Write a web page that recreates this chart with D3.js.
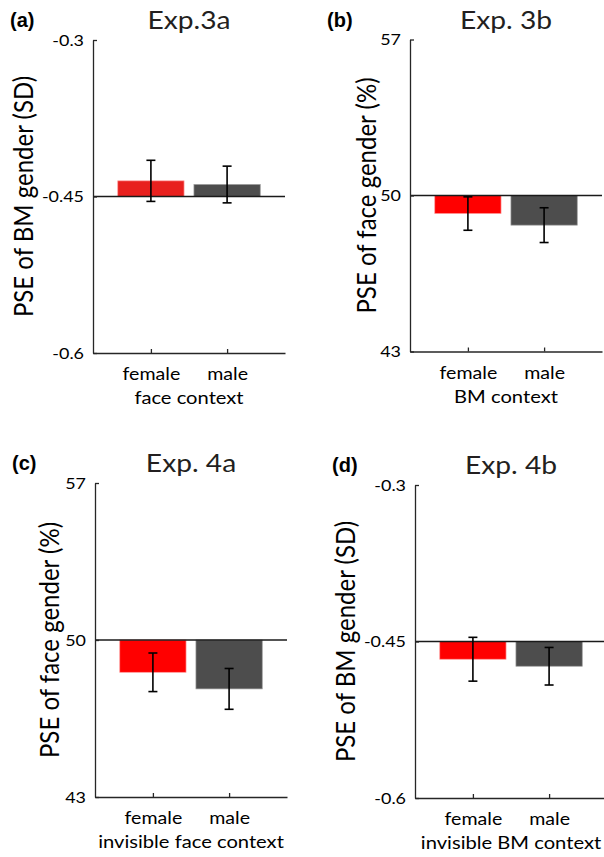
<!DOCTYPE html>
<html>
<head>
<meta charset="utf-8">
<script src="https://cdn.jsdelivr.net/npm/d3@7"></script>
<style>
  body { margin: 0; background: #fff; }
  svg { display: block; font-family: Lato, sans-serif; }
</style>
</head>
<body>
<div id="chart-area"></div>
<script>
// values
const conditions = ['female', 'male']
const barColors = ['#ff0000', '#4d4d4d']

const exp3aPSE = [-0.435, -0.4385]
const exp3aErr = [0.0197, 0.0176]
const exp3bPSE = [49.19, 48.67]
const exp3bErr = [0.75, 0.78]
const exp4aPSE = [48.56, 47.82]
const exp4aErr = [0.86, 0.91]
const exp4bPSE = [-0.467, -0.4737]
const exp4bErr = [0.021, 0.018]

const ticksSD = [-0.6, -0.45, -0.3]
const ticksPct = [43, 50, 57]

const panels = [
    { tag: '(a)', title: 'Exp.3a', ylab: 'PSE of BM gender (SD)', xlab: 'face context',
      pse: exp3aPSE, err: exp3aErr, ticks: ticksSD, red: '#e8201e',
      left: 93, top: 40, height: 313, labGap: 60 },
    { tag: '(b)', title: 'Exp. 3b', ylab: 'PSE of face gender (%)', xlab: 'BM context',
      pse: exp3bPSE, err: exp3bErr, ticks: ticksPct, red: barColors[0],
      left: 410, top: 39.5, height: 312, labGap: 34 },
    { tag: '(c)', title: 'Exp. 4a', ylab: 'PSE of face gender (%)', xlab: 'invisible face context',
      pse: exp4aPSE, err: exp4aErr, ticks: ticksPct, red: barColors[0],
      left: 95, top: 483, height: 314, labGap: 36 },
    { tag: '(d)', title: 'Exp. 4b', ylab: 'PSE of BM gender (SD)', xlab: 'invisible BM context',
      pse: exp4bPSE, err: exp4bErr, ticks: ticksSD, red: barColors[0],
      left: 415, top: 485, height: 313, labGap: 60 }
]

const width = 192
// the original figure is a bit wider than tall, so glyphs are stretched sideways
const stretch = 1.12

const svg = d3.select('#chart-area').append('svg')
    .attr('width', 604)
    .attr('height', 857)

function label(g, x, y, str, size, sx, rot) {
    return g.append('text')
        .attr('transform', `translate(${x}, ${y}) scale(${sx}, 1)` + (rot ? ' rotate(-90)' : ''))
        .attr('font-size', size + 'px')
        .attr('text-anchor', 'middle')
        .text(str)
}

panels.forEach(p => {
    const height = p.height
    const g = svg.append('g')
        .attr('transform', `translate(${p.left}, ${p.top})`)

    const xScale = d3.scaleLinear()
        .domain([0.24, 2.76])
        .range([0, width])

    const yScale = d3.scaleLinear()
        .domain([p.ticks[0], p.ticks[2]])
        .range([height, 0])

    const base = p.ticks[1]
    const barW = xScale(1.87) - xScale(1)
    const colors = [p.red, barColors[1]]

    // bars hang from the middle tick
    g.selectAll('rect.bar')
        .data(p.pse).enter().append('rect')
        .attr('class', 'bar')
        .attr('x', (d, i) => xScale(i + 1) - barW / 2)
        .attr('y', d => yScale(Math.max(d, base)))
        .attr('width', barW)
        .attr('height', d => Math.abs(yScale(d) - yScale(base)))
        .attr('fill', (d, i) => colors[i])
        .attr('stroke', (d, i) => i === 0 ? '#ff9a9a' : '#9a9a9a')
        .attr('stroke-width', 0.7)

    // reference line
    g.append('line')
        .attr('x1', 0).attr('x2', width)
        .attr('y1', yScale(base)).attr('y2', yScale(base))
        .attr('stroke', '#1a1a1a')
        .attr('stroke-width', 1.5)

    // error bars
    const eb = g.selectAll('g.err')
        .data(p.pse).enter().append('g')
        .attr('class', 'err')
        .attr('stroke', '#000')
        .attr('stroke-width', 1.6)
    eb.append('line')
        .attr('x1', (d, i) => xScale(i + 1)).attr('x2', (d, i) => xScale(i + 1))
        .attr('y1', (d, i) => yScale(d - p.err[i]))
        .attr('y2', (d, i) => yScale(d + p.err[i]))
    ;[-1, 1].forEach(s => {
        eb.append('line')
            .attr('x1', (d, i) => xScale(i + 1) - 4.5).attr('x2', (d, i) => xScale(i + 1) + 4.5)
            .attr('y1', (d, i) => yScale(d + s * p.err[i]))
            .attr('y2', (d, i) => yScale(d + s * p.err[i]))
    })

    const yAxisCall = d3.axisLeft(yScale)
        .tickValues(p.ticks)
        .tickFormat(d => String(d))
        .tickSize(-4)
        .tickSizeOuter(0)
    const ya = g.append('g')
        .attr('class', 'y axis')
        .call(yAxisCall)
    ya.selectAll('text')
        .attr('x', 0)
        .attr('transform', `translate(-9, 0) scale(${stretch}, 1)`)
        .attr('font-size', '16px')
        .attr('font-family', 'Lato, sans-serif')
        .attr('fill', '#000')

    const xAxisCall = d3.axisBottom(xScale)
        .tickValues([1, 2])
        .tickFormat(d => conditions[d - 1])
        .tickSize(-4)
        .tickSizeOuter(0)
    const xa = g.append('g')
        .attr('class', 'x axis')
        .attr('transform', `translate(0, ${height})`)
        .call(xAxisCall)
    xa.selectAll('text')
        .attr('y', 0)
        .attr('dy', 0)
        .attr('transform', `translate(0, 27) scale(${stretch}, 1)`)
        .attr('font-size', '17.5px')
        .attr('font-family', 'Lato, sans-serif')
        .attr('fill', '#000')

    svg.selectAll('.axis path, .axis line')
        .attr('stroke', '#262626')
        .attr('stroke-width', 1.3)

    label(g, width / 2, height + 51, p.xlab, 18, stretch)

    label(g, -p.labGap, height / 2, p.ylab, 24, 1.15, true)

    label(g, width / 2, -11, p.title, 24.5, 1.15)
        .attr('fill', '#231f20')

    g.append('text')
        .attr('x', -83)
        .attr('y', -13)
        .attr('font-size', '20px')
        .attr('font-family', "'Liberation Sans', Arial, sans-serif")
        .attr('font-weight', 'bold')
        .text(p.tag)
})
</script>
</body>
</html>
